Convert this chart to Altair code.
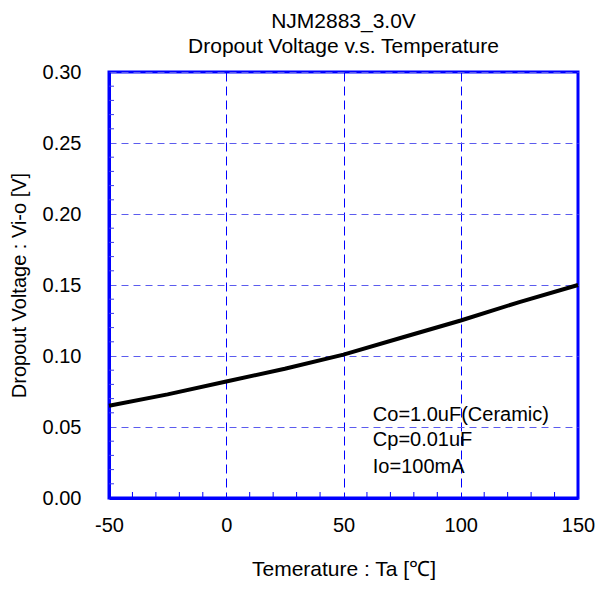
import altair as alt
import pandas as pd

temps = [-50, -25, 0, 25, 50, 75, 100, 125, 150]
vdrop = [0.065, 0.073, 0.082, 0.091, 0.101, 0.113, 0.125, 0.138, 0.150]

x_minor = [-40, -30, -20, -10, 10, 20, 30, 40, 60, 70, 80, 90, 110, 120, 130, 140]
y_minor = [0.01, 0.02, 0.03, 0.04, 0.06, 0.07, 0.08, 0.09, 0.11, 0.12, 0.13, 0.14,
           0.16, 0.17, 0.18, 0.19, 0.21, 0.22, 0.23, 0.24, 0.26, 0.27, 0.28, 0.29]

notes = ["Co=1.0uF(Ceramic)", "Cp=0.01uF", "Io=100mA"]
note_x = [62.5, 62.5, 62.5]
note_y = [0.0588, 0.0405, 0.0215]

W, H = 469, 426
FONT = "Liberation Sans"
FS = 20
TFS = 21

df = pd.DataFrame({"t": temps, "v": vdrop})
dfx = pd.DataFrame({"t": x_minor})
dfy = pd.DataFrame({"v": y_minor})
dfn = pd.DataFrame({"label": notes, "t": note_x, "v": note_y})

xs = alt.Scale(domain=[-50, 150], nice=False, zero=False)
ys = alt.Scale(domain=[0, 0.30], nice=False, zero=False)

xaxis = alt.Axis(values=[-50, 0, 50, 100, 150], labelExpr="'' + datum.value", grid=True,
                 gridColor="#0000ff", gridDash=[9, 5], gridWidth=1,
                 domainColor="#0000ff", domainWidth=3, ticks=False, labelFlush=False,
                 labelPadding=17, labelFontSize=FS, labelFont=FONT, labelColor="#000",
                 title="Temerature : Ta [℃]", titleFont=FONT, titleFontSize=TFS,
                 titleFontWeight="normal", titleColor="#000", titlePadding=23)
yaxis = alt.Axis(values=[0, 0.05, 0.10, 0.15, 0.20, 0.25, 0.30], format=".2f", grid=True,
                 gridColor="#5c5cee", gridDash=[7, 5], gridWidth=1,
                 domainColor="#0000ff", domainWidth=3, ticks=False, labelFlush=False,
                 labelPadding=28, labelFontSize=FS, labelFont=FONT, labelColor="#000",
                 title="Dropout Voltage : Vi-o [V]", titleFont=FONT, titleFontSize=FS,
                 titleFontWeight="normal", titleColor="#000", titlePadding=13)

line = alt.Chart(df).mark_line(color="#000000", strokeWidth=4).encode(
    x=alt.X("t:Q", scale=xs, axis=xaxis),
    y=alt.Y("v:Q", scale=ys, axis=yaxis),
)

xticks = alt.Chart(dfx).mark_rule(color="#0000ff", strokeWidth=1).encode(
    x=alt.X("t:Q", scale=xs, axis=xaxis),
    y=alt.value(H),
    y2=alt.value(H - 6),
)
yticks = alt.Chart(dfy).mark_rule(color="#3a3aee", strokeWidth=1).encode(
    y=alt.Y("v:Q", scale=ys, axis=yaxis),
    x=alt.value(0),
    x2=alt.value(5),
)

text = alt.Chart(dfn).mark_text(align="left", baseline="middle", fontSize=FS,
                                font=FONT, color="#000").encode(
    x=alt.X("t:Q", scale=xs, axis=xaxis),
    y=alt.Y("v:Q", scale=ys, axis=yaxis),
    text="label:N",
)

chart = alt.layer(line, xticks, yticks, text).properties(
    width=W, height=H,
    title=alt.TitleParams(text=["NJM2883_3.0V", "Dropout Voltage v.s. Temperature"],
                          font=FONT, fontSize=TFS, fontWeight="normal", color="#000",
                          anchor="middle", offset=5, lineHeight=25),
    padding={"left": 101, "top": 64, "right": 17, "bottom": 84},
    autosize=alt.AutoSizeParams(type="none"),
).configure(background="white").configure_view(stroke="#0000ff", strokeWidth=3)

chart.save("out.html", embed_options={"renderer": "svg", "actions": False})
